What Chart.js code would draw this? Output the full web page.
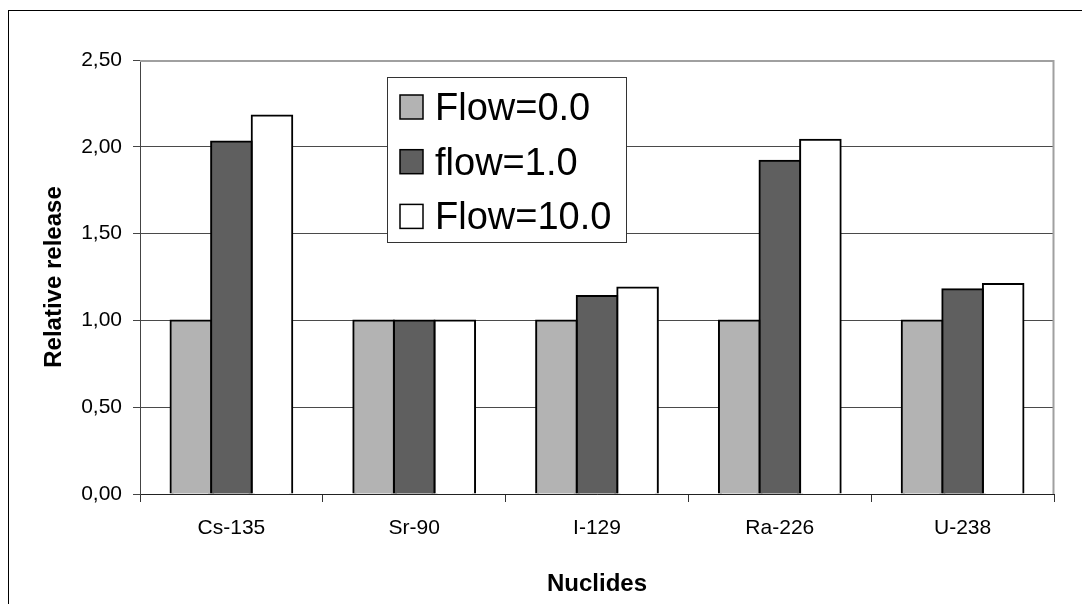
<!DOCTYPE html>
<html>
<head>
<meta charset="utf-8">
<script src="https://cdn.jsdelivr.net/npm/chart.js@4.4.0/dist/chart.umd.min.js"></script>
<style>
  html, body { margin: 0; padding: 0; background: #ffffff; }
  #wrap { width: 1082px; height: 604px; position: relative; }
</style>
</head>
<body>
<div id="wrap"><canvas id="c" width="1082" height="604"></canvas></div>
<script>
const categories = ['Cs-135', 'Sr-90', 'I-129', 'Ra-226', 'U-238'];
const flow0 = [1.00, 1.00, 1.00, 1.00, 1.00];
const flow1 = [2.03, 1.00, 1.14, 1.92, 1.18];
const flow10 = [2.18, 1.00, 1.19, 2.04, 1.21];
const seriesLabels = ['Flow=0.0', 'flow=1.0', 'Flow=10.0'];
const seriesColors = ['#b3b3b3', '#5f5f5f', '#ffffff'];
const yMin = 0, yMax = 2.5, yStep = 0.5;
const xTitle = 'Nuclides';
const yTitle = 'Relative release';

const FONT = "'Liberation Sans', Arial, sans-serif";

const outerBorder = {
  id: 'outerBorder',
  beforeDraw(chart) {
    const ctx = chart.ctx;
    ctx.save();
    ctx.fillStyle = '#ffffff';
    ctx.fillRect(0, 0, chart.width, chart.height);
    ctx.strokeStyle = '#000000';
    ctx.lineWidth = 1;
    ctx.strokeRect(8.5, 10.5, chart.width + 20, chart.height + 20);
    ctx.restore();
  }
};

const plotBorder = {
  id: 'plotBorder',
  beforeDatasetsDraw(chart) {
    const a = chart.chartArea;
    const ctx = chart.ctx;
    ctx.save();
    ctx.strokeStyle = '#a0a0a0';
    ctx.lineWidth = 2;
    ctx.beginPath();
    ctx.moveTo(a.left, a.top + 1);
    ctx.lineTo(a.right - 0.5, a.top + 1);
    ctx.lineTo(a.right - 0.5, a.bottom);
    ctx.stroke();
    ctx.restore();
  }
};

const boxLegend = {
  id: 'boxLegend',
  afterDraw(chart) {
    const ctx = chart.ctx;
    const bx = 387.5, by = 77.5, bw = 239, bh = 165;
    ctx.save();
    ctx.fillStyle = '#ffffff';
    ctx.fillRect(bx, by, bw, bh);
    ctx.strokeStyle = '#333333';
    ctx.lineWidth = 1;
    ctx.strokeRect(bx, by, bw, bh);
    ctx.font = '38px ' + FONT;
    ctx.textBaseline = 'alphabetic';
    ctx.textAlign = 'left';
    chart.data.datasets.forEach((ds, i) => {
      const base = 120 + i * 54.7;
      ctx.fillStyle = ds.backgroundColor;
      ctx.fillRect(400, base - 25, 23, 24);
      ctx.strokeStyle = '#000000';
      ctx.lineWidth = 1.5;
      ctx.strokeRect(400, base - 25, 23, 24);
      ctx.fillStyle = '#000000';
      ctx.fillText(ds.label, 435, base);
    });
    ctx.restore();
  }
};

const datasets = [flow0, flow1, flow10].map((vals, i) => ({
  label: seriesLabels[i],
  data: vals,
  backgroundColor: seriesColors[i],
  borderColor: '#000000',
  borderWidth: 2,
  inflateAmount: 1,
  categoryPercentage: 0.666,
  barPercentage: 1.0
}));

new Chart(document.getElementById('c'), {
  type: 'bar',
  data: { labels: categories, datasets: datasets },
  options: {
    responsive: false,
    animation: false,
    devicePixelRatio: 1,
    layout: { padding: { top: 60, right: 28, left: 0, bottom: 0 } },
    plugins: {
      legend: { display: false },
      tooltip: { enabled: false },
      title: { display: false }
    },
    scales: {
      x: {
        offset: true,
        grid: {
          display: true,
          offset: true,
          drawOnChartArea: false,
          drawTicks: true,
          tickLength: 8,
          tickColor: '#333333',
          color: '#333333'
        },
        border: { display: true, color: '#222222', width: 1 },
        ticks: {
          color: '#000000',
          font: { family: FONT, size: 21 },
          padding: 14,
          maxRotation: 0,
          autoSkip: false
        },
        title: {
          display: true,
          text: xTitle,
          color: '#000000',
          font: { family: FONT, size: 24, weight: 'bold' },
          padding: { top: 0, bottom: 5 }
        },
        afterFit(scale) { scale.height = 110; }
      },
      y: {
        min: yMin,
        max: yMax,
        grid: {
          color: '#4a4a4a',
          lineWidth: 1,
          drawTicks: true,
          tickLength: 7,
          tickColor: '#444444'
        },
        border: { display: true, color: '#444444', width: 1 },
        ticks: {
          stepSize: yStep,
          color: '#000000',
          font: { family: FONT, size: 21 },
          padding: 11,
          callback: (v) => Number(v).toFixed(2).replace('.', ',')
        },
        title: {
          display: true,
          text: yTitle,
          color: '#000000',
          font: { family: FONT, size: 24, weight: 'bold' },
          padding: { top: 40, bottom: 0 }
        },
        afterFit(scale) { scale.width = 140; }
      }
    }
  },
  plugins: [outerBorder, plotBorder, boxLegend]
});
</script>
</body>
</html>
